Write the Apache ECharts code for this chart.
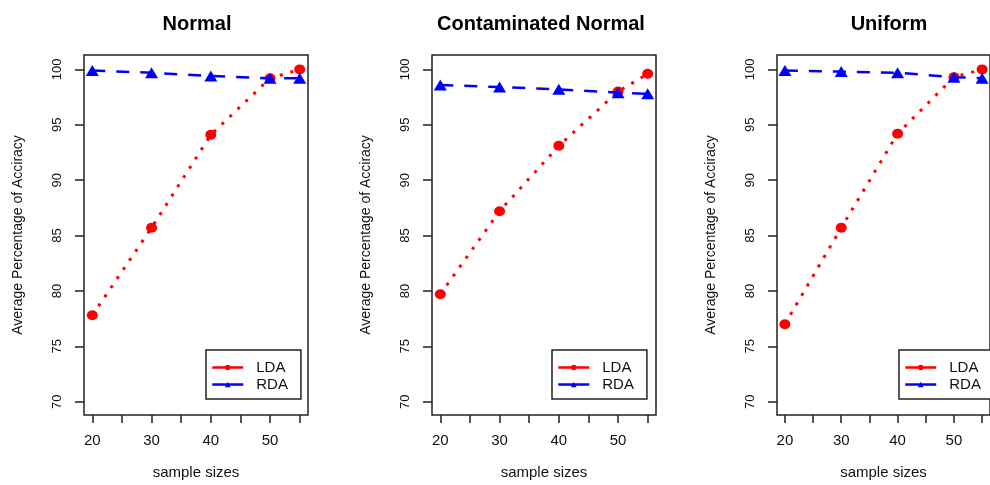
<!DOCTYPE html>
<html>
<head>
<meta charset="utf-8">
<script src="https://cdn.jsdelivr.net/npm/echarts@6/dist/echarts.min.js"></script>
<style>
html,body{margin:0;padding:0;background:#fff;}
#chart{width:990px;height:485px;}
</style>
</head>
<body>
<div id="chart"></div>
<script>
// ---- data ----
var sampleSizes = [20, 30, 40, 50, 55];
var panelTitles = ['Normal', 'Contaminated Normal', 'Uniform'];
var normalLDA = [77.8, 85.7, 94.1, 99.2, 100.0];
var normalRDA = [99.9, 99.7, 99.4, 99.2, 99.2];
var contLDA   = [79.7, 87.2, 93.1, 98.0, 99.6];
var contRDA   = [98.6, 98.4, 98.2, 97.9, 97.8];
var unifLDA   = [77.0, 85.7, 94.2, 99.3, 100.0];
var unifRDA   = [99.9, 99.8, 99.7, 99.3, 99.2];
var xTickValues = [20, 25, 30, 35, 40, 45, 50, 55];
var xLabelValues = [20, 30, 40, 50];
var yTickValues = [70, 75, 80, 85, 90, 95, 100];
var seriesNames = ['LDA', 'RDA'];
var xTitle = 'sample sizes';
var yTitle = 'Average Percentage of Acciracy';

var ldaSets = [normalLDA, contLDA, unifLDA];
var rdaSets = [normalRDA, contRDA, unifRDA];

// ---- layout ----
var FONT = '"Liberation Sans", Arial, Helvetica, sans-serif';
var gridLefts = [84, 432, 777];
var titleCenters = [197, 541, 889];
var legendLefts = [206, 552, 899];
var GRID_TOP = 55, GRID_W = 224, GRID_H = 364;

function pairs(xs, ys) {
  return xs.map(function (x, i) { return [x, ys[i]]; });
}

var grids = [], xAxes = [], yAxes = [], series = [], legends = [], graphics = [];
for (var p = 0; p < 3; p++) {
  grids.push({
    left: gridLefts[p], top: GRID_TOP, width: GRID_W, height: GRID_H,
    show: true, borderColor: '#222', borderWidth: 1.5, backgroundColor: 'transparent'
  });
  xAxes.push({
    gridIndex: p, type: 'value', min: 18.6, max: 56.4,
    name: xTitle, nameLocation: 'middle', nameGap: 50,
    nameTextStyle: { fontFamily: FONT, fontSize: 15, color: '#111' },
    axisLine: { show: false },
    axisTick: { show: true, inside: false, length: 8, customValues: xTickValues,
      lineStyle: { color: '#222', width: 1.5 } },
    axisLabel: { customValues: xLabelValues, margin: 18, fontFamily: FONT, fontSize: 15, color: '#111' },
    splitLine: { show: false }
  });
  yAxes.push({
    gridIndex: p, type: 'value', min: 68.8, max: 101.3,
    name: yTitle, nameLocation: 'middle', nameGap: 59,
    nameTextStyle: { fontFamily: FONT, fontSize: 14, color: '#111' },
    axisLine: { show: false },
    axisTick: { show: true, inside: false, length: 9, customValues: yTickValues,
      lineStyle: { color: '#222', width: 1.5 } },
    axisLabel: { customValues: yTickValues, rotate: 90, margin: 20, fontFamily: FONT, fontSize: 13, color: '#111' },
    splitLine: { show: false }
  });
  series.push({
    name: seriesNames[0], type: 'line', xAxisIndex: p, yAxisIndex: p,
    data: pairs(sampleSizes, ldaSets[p]),
    symbol: 'circle', symbolSize: [11, 10],
    itemStyle: { color: '#ff0000' },
    lineStyle: { color: '#ff0000', width: 3, type: [3, 8] },
    silent: true, animation: false, z: 2
  });
  series.push({
    name: seriesNames[1], type: 'line', xAxisIndex: p, yAxisIndex: p,
    data: pairs(sampleSizes, rdaSets[p]),
    symbol: 'triangle', symbolSize: [13, 11],
    itemStyle: { color: '#0000ff' },
    lineStyle: { color: '#0000ff', width: 2.5, type: [13, 11] },
    silent: true, animation: false, z: 3
  });
  legends.push({
    data: seriesNames, orient: 'vertical',
    left: legendLefts[p], top: 350,
    itemWidth: 31, itemHeight: 7, itemGap: 2,
    padding: [10, 13, 7, 5],
    borderColor: '#222', borderWidth: 1.5, borderRadius: 0,
    backgroundColor: '#fff',
    selectedMode: false,
    lineStyle: { type: 'solid', width: 2.5 },
    textStyle: { fontFamily: FONT, fontSize: 15, color: '#111', padding: [0, 0, 0, 8] }
  });
  graphics.push({
    type: 'text', x: titleCenters[p], y: 24,
    style: { text: panelTitles[p], align: 'center', verticalAlign: 'middle',
      fontFamily: FONT, fontSize: 20, fontWeight: 'bold', fill: '#000' }
  });
}

var chart = echarts.init(document.getElementById('chart'), null, { renderer: 'canvas' });
chart.setOption({
  backgroundColor: '#fff',
  animation: false,
  grid: grids,
  xAxis: xAxes,
  yAxis: yAxes,
  legend: legends,
  series: series,
  graphic: graphics
});
</script>
</body>
</html>
